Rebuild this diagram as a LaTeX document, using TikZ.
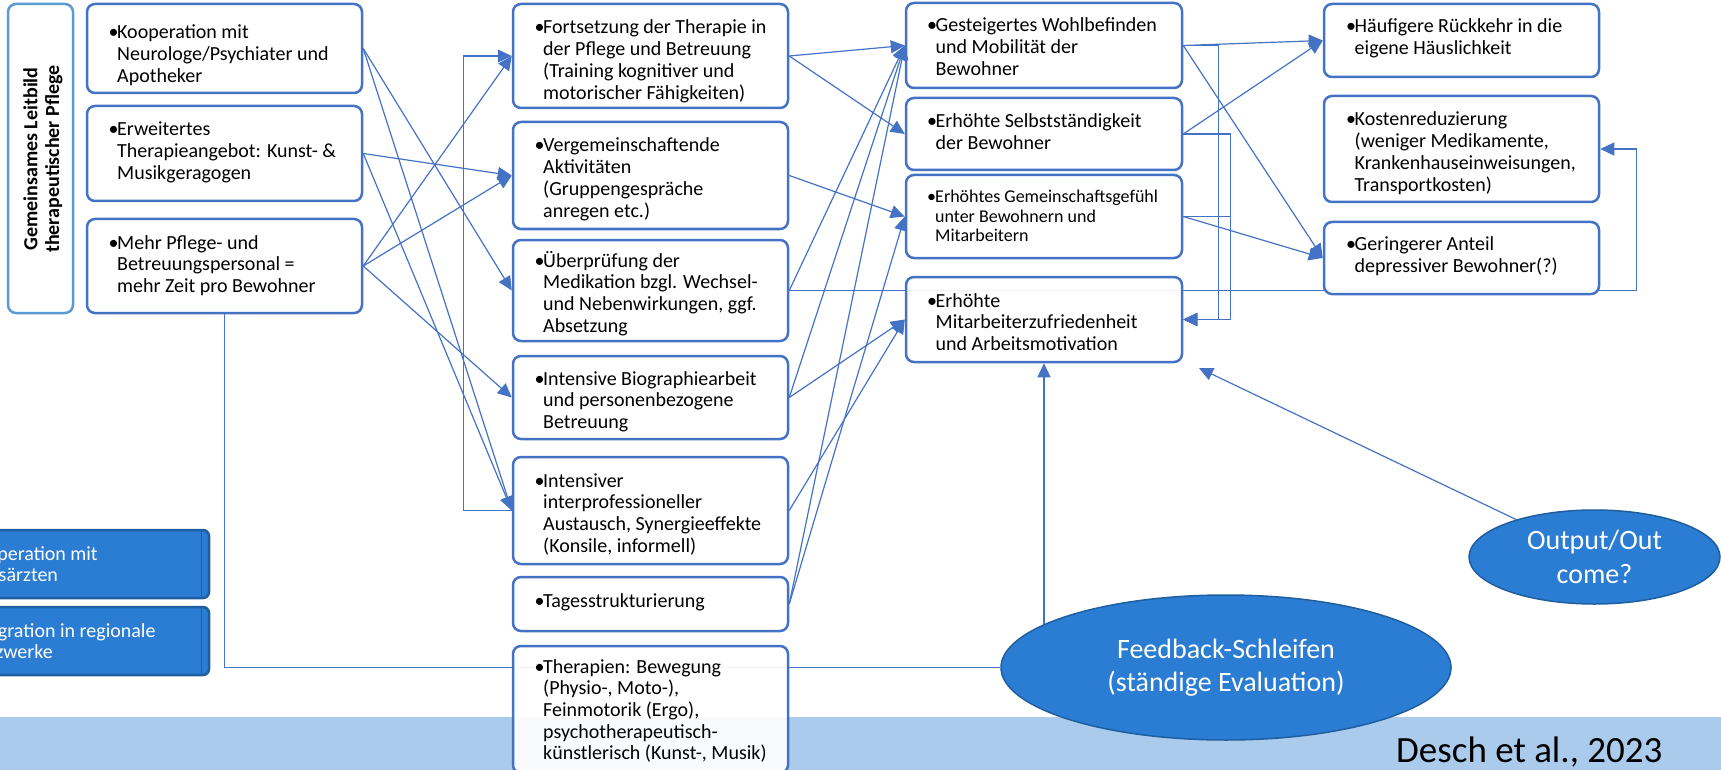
\documentclass[tikz,border=0pt]{standalone}
\usepackage{fontspec}
\setmainfont{Carlito}
\usetikzlibrary{arrows.meta,shapes.geometric,calc}
\definecolor{lineb}{HTML}{4472C4}
\definecolor{leitb}{HTML}{5B9BD5}
\definecolor{ovalf}{HTML}{2B7CD3}
\definecolor{ovald}{HTML}{1F5FA0}
\definecolor{bandc}{HTML}{AACBEC}
\pgfdeclarelayer{bg}
\pgfsetlayers{bg,main}
\newcommand\fs[2]{\fontsize{#1}{#2}\selectfont}
\newcommand\bul[2][8.5pt]{\makebox[#1][l]{•}\begin{tabular}[t]{@{}l@{}}#2\end{tabular}}
\newcommand\mybox[6][]{\node[box,#1,minimum width={#5-#3},minimum height={#6-#4}] (#2) at ({(#3+#5)/2},{(#4+#6)/2}) {};}
\tikzset{
  box/.style={draw=lineb, line width=2.5pt, rounded corners=8pt, fill=white, fill opacity=0.92, draw opacity=1, inner sep=0},
  kbox/.style={fill=ovalf, draw=ovald, fill opacity=1, rounded corners=6pt},
  txt/.style={inner sep=0, anchor=base west, font=\fs{20}{21.7}, text=black},
  oval/.style={ellipse, fill=ovalf, draw=ovald, line width=1.5pt, text=white, align=center, inner sep=0},
  conn/.style={draw=lineb, line width=1.2pt},
  arr/.style={conn, -{Triangle[length=14pt,width=13pt]}},
}
\begin{document}
\begin{tikzpicture}[x=1pt,y=-1pt]
\useasboundingbox (0,0) rectangle (1721,770);
\fill[bandc] (0,717) rectangle (1721,772);

% Leitbild
\mybox[draw=leitb]{lb}{8}{4}{73}{313}
\node[rotate=90, align=center, font=\bfseries\fs{20}{21.7}, inner sep=0] (lbt) at (43,159) {Gemeinsames Leitbild\\therapeutischer Pflege};

% column 1
\mybox{a1}{87}{4}{362}{93}
\node[txt] (a1t) at (108.5,39) {\bul{Kooperation mit\\Neurologe/Psychiater und\\Apotheker}};
\mybox{a2}{87}{106}{362}{201}
\node[txt] (a2t) at (108.5,136) {\bul{Erweitertes\\Therapieangebot: Kunst- \&\\Musikgeragogen}};
\mybox{a3}{87}{219}{362}{313}
\node[txt] (a3t) at (108.5,249) {\bul{Mehr Pflege- und\\Betreuungspersonal =\\mehr Zeit pro Bewohner}};

% blue boxes left
\mybox[kbox]{k1}{-30}{530}{209}{598}
\draw[ovald, line width=1.5pt] ([xshift=-9pt]k1.north east) -- ([xshift=-9pt]k1.south east);
\node[txt, text=white] (k1t) at (-34,560) {\begin{tabular}[t]{@{}l@{}}Kooperation mit\\Hausärzten\end{tabular}};
\mybox[kbox]{k2}{-30}{607}{209}{675}
\draw[ovald, line width=1.5pt] ([xshift=-9pt]k2.north east) -- ([xshift=-9pt]k2.south east);
\node[txt, text=white] (k2t) at (-34,637) {\begin{tabular}[t]{@{}l@{}}Integration in regionale\\Netzwerke\end{tabular}};

% column 2
\mybox{b1}{513}{4}{788}{108}
\node[txt] (b1t) at (534.5,34) {\bul{Fortsetzung der Therapie in\\der Pflege und Betreuung\\(Training kognitiver und\\motorischer Fähigkeiten)}};
\mybox{b2}{513}{122}{788}{229}
\node[txt] (b2t) at (534.5,152) {\bul{Vergemeinschaftende\\Aktivitäten\\(Gruppengespräche\\anregen etc.)}};
\mybox{b3}{513}{240}{788}{341}
\node[txt] (b3t) at (534.5,267) {\bul{Überprüfung der\\Medikation bzgl. Wechsel-\\und Nebenwirkungen, ggf.\\Absetzung}};
\mybox{b4}{513}{356}{788}{439}
\node[txt] (b4t) at (534.5,385) {\bul{Intensive Biographiearbeit\\und personenbezogene\\Betreuung}};
\mybox{b5}{513}{457}{788}{564}
\node[txt] (b5t) at (534.5,487) {\bul{Intensiver\\interprofessioneller\\Austausch, Synergieeffekte\\(Konsile, informell)}};
\mybox{b6}{513}{577}{788}{631}
\node[txt] (b6t) at (534.5,607) {\bul{Tagesstrukturierung}};

% column 3
\mybox{c1}{906}{3}{1182}{88}
\node[txt] (c1t) at (927,32) {\bul{Gesteigertes Wohlbefinden\\und Mobilität der\\Bewohner}};
\mybox{c2}{906}{98}{1182}{170}
\node[txt] (c2t) at (927,128) {\bul{Erhöhte Selbstständigkeit\\der Bewohner}};
\mybox{c3}{906}{175}{1182}{258}
\node[txt, font=\fs{18}{19.5}] (c3t) at (927,203) {\bul[8pt]{Erhöhtes Gemeinschaftsgefühl\\unter Bewohnern und\\Mitarbeitern}};
\mybox{c4}{906}{277}{1182}{362}
\node[txt] (c4t) at (927,307) {\bul{Erhöhte\\Mitarbeiterzufriedenheit\\und Arbeitsmotivation}};

% column 4
\mybox{d1}{1324}{4}{1599}{77}
\node[txt] (d1t) at (1346,33) {\bul{Häufigere Rückkehr in die\\eigene Häuslichkeit}};
\mybox{d2}{1324}{96}{1599}{202}
\node[txt] (d2t) at (1346,126) {\bul{Kostenreduzierung\\(weniger Medikamente,\\Krankenhauseinweisungen,\\Transportkosten)}};
\mybox{d3}{1324}{222}{1599}{294}
\node[txt] (d3t) at (1346,251) {\bul{Geringerer Anteil\\depressiver Bewohner(?)}};

% ellipses
\node[oval, minimum width=450, minimum height=145, font=\fs{28}{33.3}] (fb) at (1226,667.5) {Feedback-Schleifen\\(ständige Evaluation)};
\node[oval, minimum width=251, minimum height=94, font=\fs{28}{33.3}] (out) at (1594.5,557) {Output/Out\\come?};

% Therapien box (over band)
\mybox{b7}{513}{646}{788}{773}
\node[txt] (b7t) at (534.5,673) {\bul{Therapien: Bewegung\\(Physio-, Moto-),\\Feinmotorik (Ergo),\\psychotherapeutisch-\\künstlerisch (Kunst-, Musik)}};

\node[inner sep=0, anchor=base west, font=\fs{37}{40}] (cite) at (1396,762) {Desch et al., 2023};

% connectors passing behind shapes
\begin{pgfonlayer}{bg}
\draw[conn] (a3.south) |- (fb.west);
\draw[arr] (b3.east) -| ([xshift=36pt]d2.east) -- (d2.east);
\draw[arr] (fb.center -| c4.south) -- (c4.south);
\end{pgfonlayer}

% column 1 -> column 2
\draw[arr] (a1.east) -- (b3.west);
\draw[arr] (a1.east) -- (b5.west);
\draw[arr] (a2.east) -- (b2.west);
\draw[arr] (a2.east) -- (b5.west);
\draw[arr] (a3.east) -- (b1.west);
\draw[arr] (a3.east) -- (b2.west);
\draw[arr] (a3.east) -- (b4.west);
\draw[arr] (b5.west) -- ++(-48,0) |- (b1.west);

% column 2 -> column 3
\draw[arr] (b1.east) -- (c1.west);
\draw[arr] (b1.east) -- (c2.west);
\draw[arr] (b2.east) -- (c3.west);
\draw[arr] (b3.east) -- (c1.west);
\draw[arr] (b4.east) -- (c1.west);
\draw[arr] (b4.east) -- (c4.west);
\draw[arr] (b5.east) -- (c4.west);
\draw[arr] (b6.east) -- (c1.west);
\draw[arr] (b6.east) -- (c3.west);

% column 3 -> column 4
\draw[arr] (c1.east) -- (d1.west);
\draw[arr] (c1.east) -- (d3.west);
\draw[arr] (c2.east) -- (d1.west);
\draw[arr] (c3.east) -- (d3.west);
\draw[arr] (c1.east) -- ++(35,0) |- (c4.east);
\draw[arr] (c2.east) -- ++(47,0) |- (c4.east);
\draw[arr] (c3.east) -- ++(47,0) |- (c4.east);

% output arrow
\coordinate (otip) at (1199,368);
\draw[arr] (out) -- (otip);
\end{tikzpicture}
\end{document}
